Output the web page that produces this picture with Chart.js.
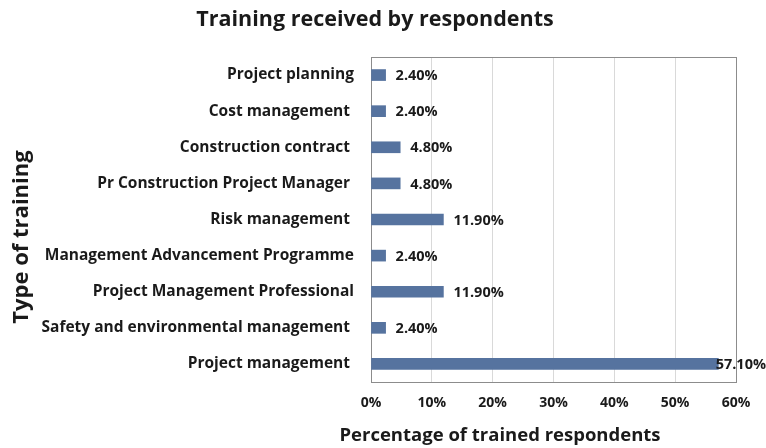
<!DOCTYPE html>
<html>
<head>
<meta charset="utf-8">
<script src="https://cdn.jsdelivr.net/npm/chart.js@4.4.1/dist/chart.umd.min.js"></script>
<style>
  html, body { margin: 0; padding: 0; background: #fff; }
  #wrap { width: 766px; height: 448px; }
</style>
</head>
<body>
<div id="wrap"><canvas id="myChart" width="766" height="448"></canvas></div>
<script>
// Tipos de capacitacion (de arriba hacia abajo)
const trainingTypes = [
    'Project planning',
    'Cost management ',
    'Construction contract ',
    'Pr Construction Project Manager ',
    'Risk management ',
    'Management Advancement Programme',
    'Project Management Professional',
    'Safety and environmental management ',
    'Project management '
];
// Porcentaje de encuestados capacitados
const percentTrained = [2.4, 2.4, 4.8, 4.8, 11.9, 2.4, 11.9, 2.4, 57.1];
const xTicks = [0, 10, 20, 30, 40, 50, 60];

const chartTitle = 'Training received by respondents';
const xTitle = 'Percentage of trained respondents';
const yTitle = 'Type of training';

const FONT = '"Open Sans", Lato, sans-serif';
const TEXT = '#1a1a1a';
const ctx = document.getElementById('myChart').getContext('2d');

// Etiquetas de valor al final de cada barra
const valueLabels = {
    id: 'valueLabels',
    afterDatasetsDraw(chart) {
        const c = chart.ctx;
        const meta = chart.getDatasetMeta(0);
        const area = chart.chartArea;
        c.save();
        c.font = 'bold 14.5px ' + FONT;
        c.fillStyle = TEXT;
        c.textBaseline = 'middle';
        meta.data.forEach((bar, i) => {
            const txt = percentTrained[i].toFixed(2) + '%';
            const w = c.measureText(txt).width;
            let x = bar.x + 10;
            if (x + w > area.right + 30) x = area.right + 30 - w;
            c.fillText(txt, x, bar.y + 1);
        });
        c.restore();
    }
};

// Borde del area de trazado
const plotBorder = {
    id: 'plotBorder',
    beforeDatasetsDraw(chart) {
        const c = chart.ctx;
        const a = chart.chartArea;
        c.save();
        c.strokeStyle = '#8c8c8c';
        c.lineWidth = 1;
        c.strokeRect(a.left + 0.5, a.top + 0.5, a.right - a.left, a.bottom - a.top);
        c.restore();
    }
};

// Titulo principal y titulos de ejes
const titles = {
    id: 'titles',
    afterDraw(chart) {
        const c = chart.ctx;
        c.save();
        c.fillStyle = TEXT;
        c.textAlign = 'center';
        c.textBaseline = 'middle';
        c.font = 'bold 21.5px ' + FONT;
        c.fillText(chartTitle, 375, 20);
        c.font = 'bold 18.5px ' + FONT;
        c.fillText(xTitle, 500, 436);
        c.translate(22, 237);
        c.rotate(-Math.PI / 2);
        c.font = 'bold 22px ' + FONT;
        c.fillText(yTitle, 0, 0);
        c.restore();
    }
};

const myChart = new Chart(ctx, {
    type: 'bar',
    data: {
        labels: trainingTypes,
        datasets: [{
            data: percentTrained,
            backgroundColor: '#56739f',
            barThickness: 11
        }]
    },
    options: {
        indexAxis: 'y',
        responsive: false,
        animation: false,
        layout: { padding: { left: 0, right: 30, top: 57, bottom: 0 } },
        plugins: {
            legend: { display: false },
            tooltip: { enabled: false },
            title: { display: false }
        },
        scales: {
            x: {
                min: 0,
                max: 60,
                afterBuildTicks: s => { s.ticks = xTicks.map(v => ({ value: v })); },
                afterFit: s => { s.height = 66; },
                ticks: {
                    callback: v => v + '%',
                    color: TEXT,
                    font: { family: FONT, size: 14, weight: 'bold' },
                    padding: 13,
                    maxRotation: 0
                },
                grid: { color: '#d9d9d9', drawTicks: false },
                border: { color: '#8c8c8c' }
            },
            y: {
                afterFit: s => { s.width = 371; },
                ticks: {
                    color: TEXT,
                    font: { family: FONT, size: 15.5, weight: 'bold' },
                    padding: 17
                },
                grid: { display: false, drawTicks: false },
                border: { color: '#8c8c8c' }
            }
        }
    },
    plugins: [plotBorder, valueLabels, titles]
});
</script>
</body>
</html>
